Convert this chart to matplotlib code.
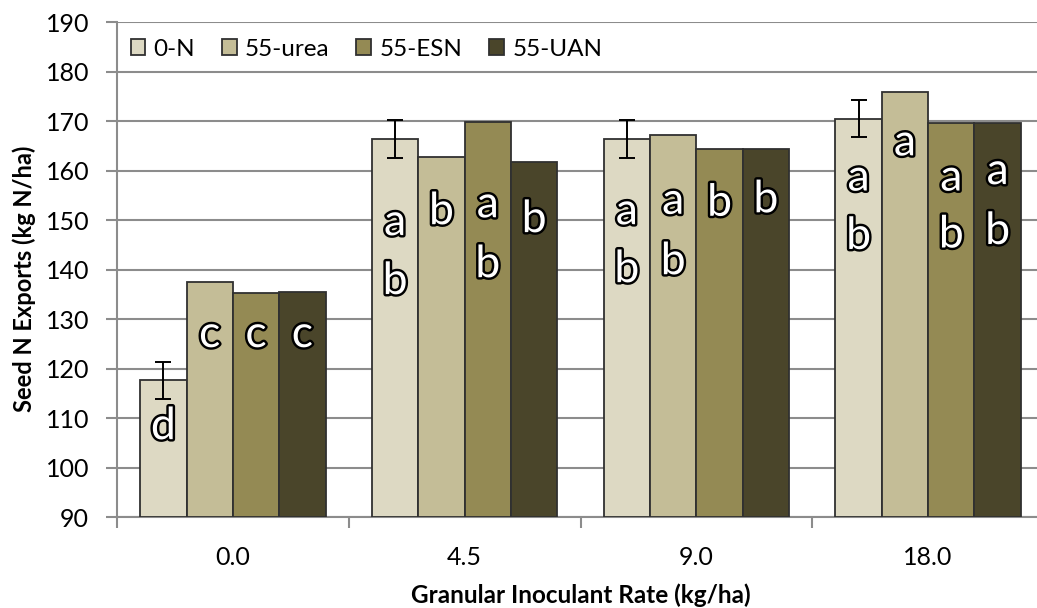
import matplotlib
matplotlib.use("Agg")
import matplotlib.pyplot as plt
import matplotlib.patheffects as pe
from matplotlib.patches import Patch
import numpy as np

plt.rcParams['font.family'] = ['Lato', 'DejaVu Sans']

categories = ["0.0", "4.5", "9.0", "18.0"]
series_names = ["0-N", "55-urea", "55-ESN", "55-UAN"]
colors = ["#DDD9C3", "#C4BD97", "#948A54", "#4A452A"]

val_0N = [117.7, 166.4, 166.4, 170.5]
val_urea = [137.6, 162.7, 167.2, 175.9]
val_esn = [135.3, 169.9, 164.3, 169.6]
val_uan = [135.5, 161.8, 164.3, 169.7]
err_0N = [3.75, 3.8, 3.8, 3.8]

# significance letters per series (one entry per category)
letters_0N = [["d"], ["a", "b"], ["a", "b"], ["a", "b"]]
letters_urea = [["c"], ["b"], ["a", "b"], ["a"]]
letters_esn = [["c"], ["a", "b"], ["b"], ["a", "b"]]
letters_uan = [["c"], ["b"], ["b"], ["a", "b"]]
# y positions of the letters (data units)
lety_0N = [[108.3], [149.5, 137.6], [151.7, 140.0], [158.5, 146.7]]
lety_urea = [[126.9], [151.7], [153.8, 141.6], [165.6]]
lety_esn = [[126.9], [153.1, 141.0], [153.4], [158.5, 147.0]]
lety_uan = [[126.9], [150.1], [154.1], [159.8, 147.7]]

values = [val_0N, val_urea, val_esn, val_uan]
letters = [letters_0N, letters_urea, letters_esn, letters_uan]
lety = [lety_0N, lety_urea, lety_esn, lety_uan]

W, H = 1037, 608
fig = plt.figure(figsize=(W / 100, H / 100), dpi=100)
ax = fig.add_axes([117 / W, (H - 517.3) / H, (1044 - 117) / W, (517.3 - 22) / H])

x = np.arange(len(categories))
bw = 0.2
for i, (vals, col) in enumerate(zip(values, colors)):
    xpos = x + (i - 1.5) * bw
    ax.bar(xpos, np.array(vals) - 90, bw, bottom=90, color=col, edgecolor="#303030",
           linewidth=1.3, zorder=3, label=series_names[i])
    if i == 0:
        ax.errorbar(xpos, vals, yerr=err_0N, fmt="none", ecolor="black",
                    elinewidth=1.4, capsize=6, capthick=1.4, zorder=4)
    for j in range(len(categories)):
        for t, yy in zip(letters[i][j], lety[i][j]):
            ax.text(xpos[j], yy, t, ha="center", va="center", fontsize=32,
                    color="white", zorder=5,
                    path_effects=[pe.withStroke(linewidth=3.5, foreground="black")])

ax.set_ylim(90, 190)
ax.set_xlim(-0.5, 3.5)
ax.set_yticks(np.arange(90, 191, 10))
ax.yaxis.grid(True, color="#8C8C8C", linewidth=1.5, zorder=0)
ax.set_axisbelow(True)
ax.set_xticks(np.arange(-0.5, 3.6, 1.0))
ax.set_xticklabels([])
ax.set_xticks(x, minor=True)
ax.set_xticklabels(categories, minor=True)
ax.tick_params(axis="x", which="major", length=8, width=1.5, color="#8C8C8C", direction="out")
ax.tick_params(axis="x", which="minor", length=0, labelsize=18, pad=21)
ax.tick_params(axis="y", length=8, width=1.5, color="#8C8C8C", labelsize=18, pad=12)
for s in ["top", "right"]:
    ax.spines[s].set_visible(False)
for s in ["left", "bottom"]:
    ax.spines[s].set_color("#8C8C8C")
    ax.spines[s].set_linewidth(1.5)

ax.set_xlabel("Granular Inoculant Rate (kg/ha)", fontsize=17.5, fontweight="bold")
ax.xaxis.set_label_coords(0.5, -(595 - 517.3) / (517.3 - 22), transform=ax.transAxes)
ax.xaxis.label.set_verticalalignment("center")
ax.set_ylabel("Seed N Exports (kg N/ha)", fontsize=17, fontweight="bold")
ax.yaxis.set_label_coords(-(117 - 24) / (1044 - 117), (517.3 - 279) / (517.3 - 22), transform=ax.transAxes)
ax.yaxis.label.set_verticalalignment("center")

handles = [Patch(facecolor=c, edgecolor="#303030", linewidth=1.3) for c in colors]
leg = ax.legend(handles, series_names, loc="upper left", ncol=4, frameon=True,
                fontsize=17.5, handlelength=0.6, handleheight=0.6, handletextpad=0.35,
                columnspacing=1.1, borderaxespad=0.0, borderpad=0.35,
                bbox_to_anchor=(5 / 927, 1 - 8 / 495.3))
leg.get_frame().set_edgecolor("none")
leg.get_frame().set_facecolor("white")
leg.get_frame().set_alpha(1)
leg.set_zorder(6)

fig.savefig("out.png", dpi=100)
